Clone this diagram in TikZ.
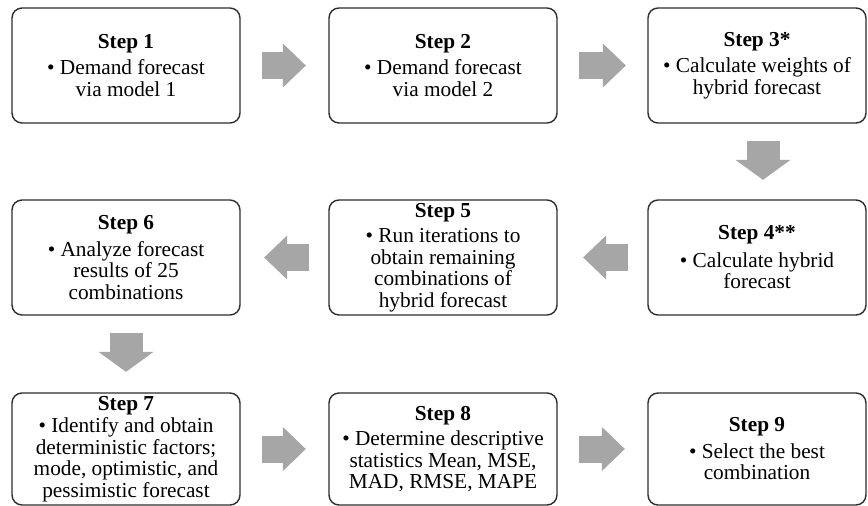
\documentclass[tikz,border=0pt]{standalone}
\usepackage{fontspec}
\setmainfont{Liberation Serif}
\usetikzlibrary{arrows.meta}
\definecolor{boxline}{RGB}{45,45,45}
\definecolor{arrowgray}{RGB}{166,166,166}
\begin{document}
\begin{tikzpicture}[x=1pt, y=-1pt,
  stepbox/.style={draw=boxline, line width=1.4pt, rounded corners=10pt, align=center,
    minimum height=115pt, inner sep=0pt, font=\fontsize{21.3}{21.5}\selectfont},
  wide/.style={minimum width=228pt},
  narrow/.style={minimum width=218pt},
  bigarrow/.style={draw=arrowgray, line width=27pt, -{Triangle[length=23pt, width=44pt, line width=1pt]}},
  downarrow/.style={draw=arrowgray, line width=33pt, -{Triangle[length=20pt, width=55pt, line width=1pt]}}
]
\useasboundingbox (0,0) rectangle (868,506);
% first row
\node[stepbox, wide] (s1) at (126,65.5) {\textbf{Step 1}\\[5pt]\textbullet{} Demand forecast\\via model 1};
\node[stepbox, wide] (s2) at (443,65.5) {\textbf{Step 2}\\[5pt]\textbullet{} Demand forecast\\via model 2};
\node[stepbox, narrow] (s3) at (757,65.5) {\textbf{Step 3*}\\[5pt]\textbullet{} Calculate weights of\\hybrid forecast};
% second row
\node[stepbox, narrow] (s4) at (757,257.5) {\textbf{Step 4**}\\[6pt]\textbullet{} Calculate hybrid\\forecast};
\node[stepbox, wide] (s5) at (443,257.5) {\textbf{Step 5}\\[4pt]\textbullet{} Run iterations to\\obtain remaining\\combinations of\\hybrid forecast};
\node[stepbox, wide] (s6) at (126,257.5) {\textbf{Step 6}\\[5pt]\textbullet{} Analyze forecast\\results of 25\\combinations};
% third row
\node[stepbox, wide, minimum height=112pt] (s7) at (126,449) {\textbf{Step 7}\\[1pt]\textbullet{} Identify and obtain\\deterministic factors;\\mode, optimistic, and\\pessimistic forecast};
\node[stepbox, wide, minimum height=112pt] (s8) at (443,449) {\textbf{Step 8}\\[4pt]\textbullet{} Determine descriptive\\statistics Mean, MSE,\\MAD, RMSE, MAPE};
\node[stepbox, narrow, minimum height=112pt] (s9) at (757,449) {\textbf{Step 9}\\[5pt]\textbullet{} Select the best\\combination};
% block arrows
\draw[bigarrow, shorten <=21pt, shorten >=22.5pt] (s1.east) -- (s2.west);
\draw[bigarrow, shorten <=21pt, shorten >=21.5pt] (s2.east) -- (s3.west);
\draw[downarrow, shorten <=17pt, shorten >=19.5pt] ([xshift=6pt]s3.south) -- ([xshift=6pt]s4.north);
\draw[bigarrow, shorten <=19.5pt, shorten >=25.5pt] (s4.west) -- (s5.east);
\draw[bigarrow, shorten <=19.5pt, shorten >=23.5pt] (s5.west) -- (s6.east);
\draw[downarrow, shorten <=17pt, shorten >=20.5pt] (s6.south) -- (s7.north);
\draw[bigarrow, shorten <=21pt, shorten >=22.5pt] (s7.east) -- (s8.west);
\draw[bigarrow, shorten <=21pt, shorten >=22.5pt] (s8.east) -- (s9.west);
\end{tikzpicture}
\end{document}
